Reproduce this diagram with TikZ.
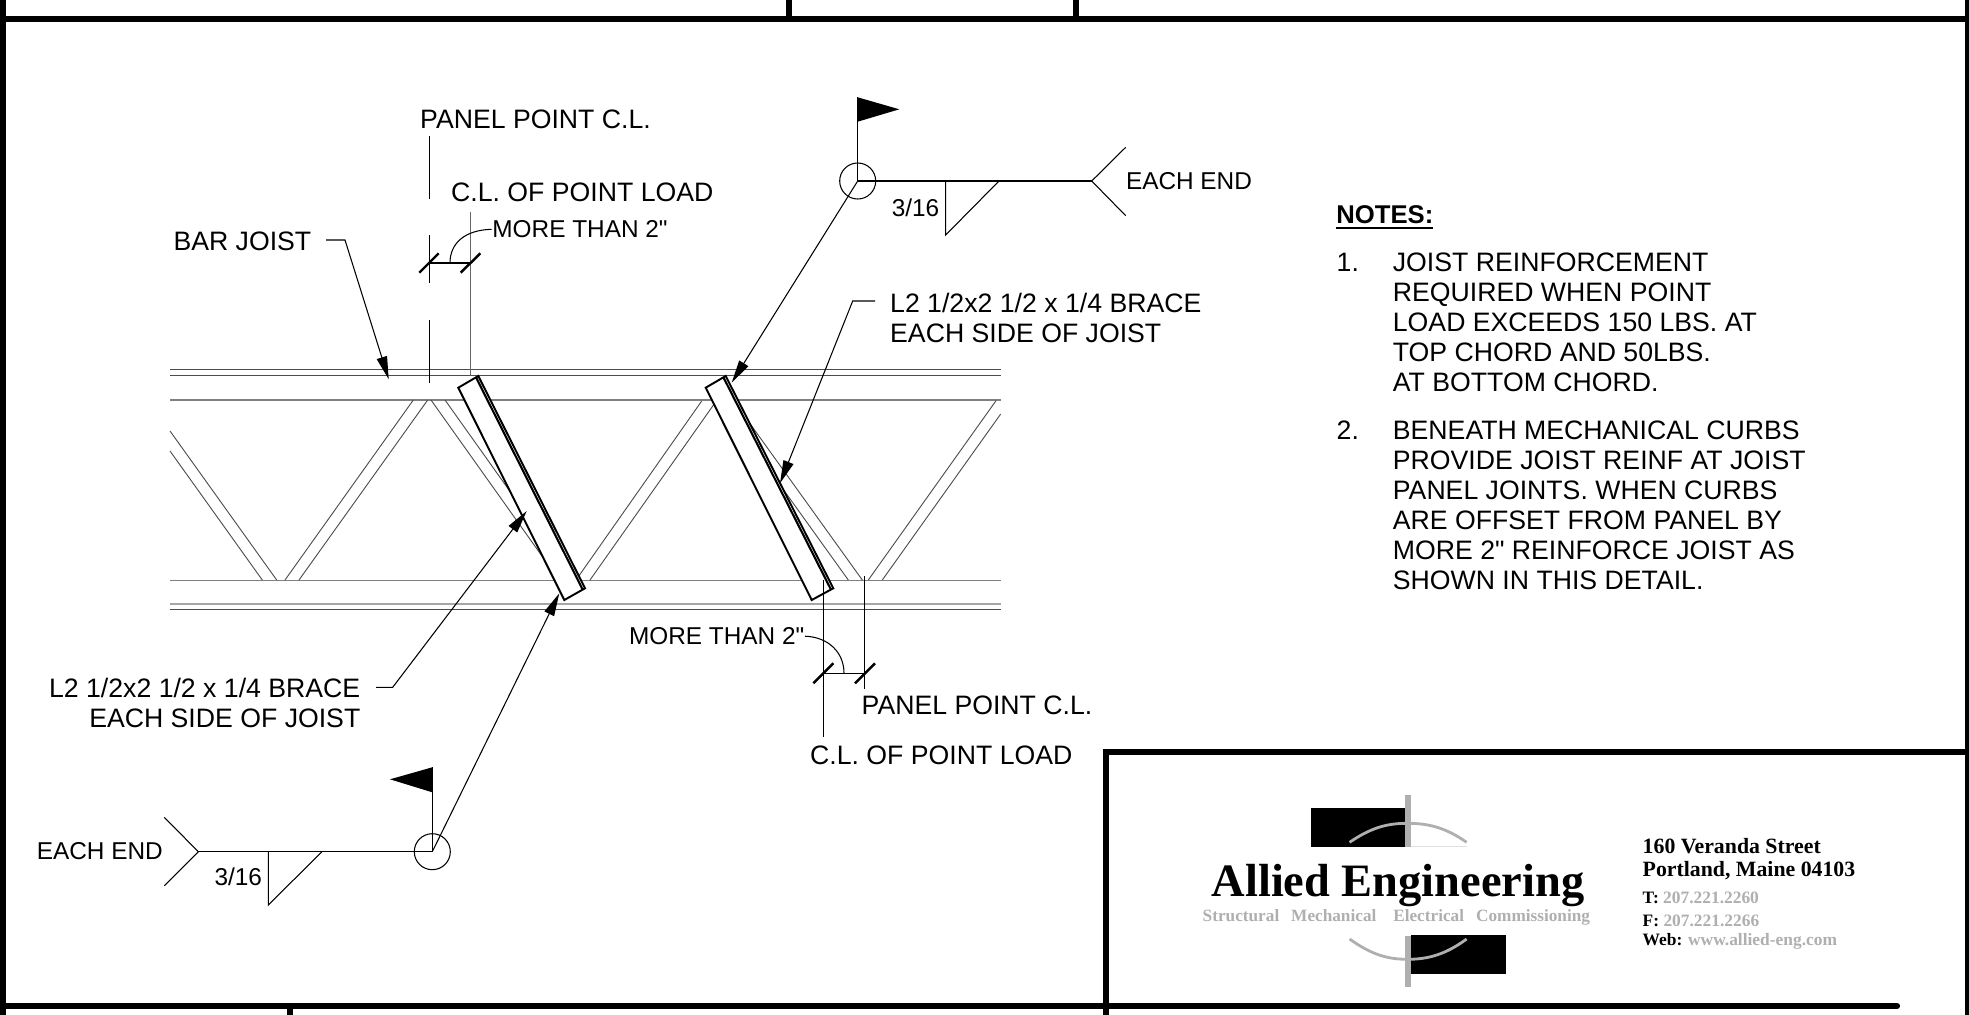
\documentclass[tikz,border=0pt]{standalone}
\usepackage{fontspec}
\newfontfamily\drawfont{Liberation Sans}
\newfontfamily\logofont{Liberation Serif}
\usetikzlibrary{positioning, arrows.meta, calc}
\definecolor{logogray}{HTML}{AFAFAF}
\tikzset{
	lbl/.style={inner sep=0pt,font=\drawfont\fontsize{7.58}{8.54}\selectfont,align=left},
	smalllbl/.style={inner sep=0pt,font=\drawfont\fontsize{6.93}{8.4}\selectfont},
	numlbl/.style={lbl,anchor=west},
	frameline/.style={line width=1.75pt},
	thinline/.style={line width=0.3pt},
	chord/.style={line width=0.4pt,black!70},
	chordlight/.style={line width=0.4pt,black!50},
	web/.style={line width=0.26pt,black!70},
	braceangle/.style={draw,fill=white,line width=0.55pt},
	braceinner/.style={line width=0.6pt},
	tick/.style={line width=0.7pt},
	leader/.style={thinline,-{Triangle[length=6.5pt,width=3pt]}},
	logotxt/.style={inner sep=0pt,anchor=west,font=\logofont\bfseries},
}
\begin{document}
\begin{tikzpicture}[x=0.01cm,y=-0.01cm]
	\useasboundingbox (0,0) rectangle (1969,1015);
	% Sheet frame
	\draw[frameline] (0,19) -- (1969,19);
	\draw[frameline] (788.7,0) -- (788.7,19);
	\draw[frameline] (1076,0) -- (1076,19);
	\draw[frameline] (2.5,0) -- (2.5,1015);
	\draw[frameline] (1968,0) -- (1968,1015);
	\draw[frameline] (1105.7,1015) -- (1105.7,752.3) -- (1969,752.3);
	\draw[frameline,line cap=round] (0,1006) -- (1897,1006);
	\draw[frameline] (290,1006) -- (290,1015);
	% Chords
	\foreach \yc in {369.3,375.3,609.3}
		\draw[chord] (170,\yc) -- (1000.7,\yc);
	\foreach \yc in {400,580.3}
		\draw[chordlight] (170,\yc) -- (1000.7,\yc);
	\draw[black!35,line width=0.5pt] (170,603.7) -- (1000.7,603.7);
	% Webs
	\draw[web] (170,431) -- (276.7,580) (170,451) -- (262.3,580);
	\draw[web] (285,580) -- (413.3,400) (299,580) -- (427.7,400);
	\draw[web] (431,400) -- (559,580) (445,400) -- (573,580);
	\draw[web] (576,580) -- (701.7,401) (590,580) -- (717,400);
	\draw[web] (719,400) -- (848.3,580) (733,400) -- (862.3,580);
	\draw[web] (868.3,580) -- (996,400.7) (882.3,580) -- (1000.7,414);
	% Braces
	\draw[braceangle] (458.3,387.7) -- (478.3,376) -- (585,588.3) -- (564.3,600) -- cycle;
	\draw[braceinner] (476,377.3) -- (582.7,589.6);
	\draw[braceangle] (705.7,387.7) -- (725.7,376) -- (833.3,588.3) -- (811.7,600) -- cycle;
	\draw[braceinner] (723.4,377.3) -- (831,589.6);
	% Center lines top
	\draw[thinline] (429.3,136) -- (429.3,199.3);
	\draw[thinline] (429.3,235) -- (429.3,283.3);
	\draw[thinline] (429.3,320) -- (429.3,382.7);
	\draw[black!60,line width=0.4pt] (470.7,211.7) -- (470.7,376);
	\draw[thinline] (429.3,263) -- (470.7,263);
	\draw[tick] (419.3,272.7) -- (438.7,253.3);
	\draw[tick] (460.7,272.7) -- (480.3,253.3);
	% Center lines bottom
	\draw[thinline] (823.3,580) -- (823.3,737.3);
	\draw[thinline] (864.3,576) -- (864.3,689.3);
	\draw[thinline] (823.3,673.3) -- (864.3,673.3);
	\draw[tick] (813.3,683.3) -- (833.3,663.3);
	\draw[tick] (855,683.3) -- (875,663.3);
	% Labels
	\node[lbl,anchor=west] (panelA) at (419.5,119.3) {PANEL POINT C.L.};
	\node[lbl,anchor=west] (loadA) at (450.5,192.3) {C.L. OF POINT LOAD};
	\node[smalllbl,anchor=west] (moreA) at (491.7,229.3) {MORE THAN 2"};
	\node[lbl,anchor=west] (barjoist) at (172.8,241.7) {BAR JOIST};
	\node[lbl,anchor=west] (braceR) at (889.5,318) {L2 1/2x2 1/2 x 1/4 BRACE\\EACH SIDE OF JOIST};
	\node[lbl,anchor=east,align=right] (braceL) at (361,702.5) {L2 1/2x2 1/2 x 1/4 BRACE\\EACH SIDE OF JOIST};
	\node[smalllbl,anchor=east] (moreB) at (805,636.2) {MORE THAN 2"};
	\node[lbl,anchor=west] (panelB) at (861,705) {PANEL POINT C.L.};
	\node[lbl,anchor=west] (loadB) at (809.5,755.7) {C.L. OF POINT LOAD};
	% Leaders
	\coordinate (moreAdim) at (450,263);
	\coordinate (moreBdim) at (844,673.3);
	\draw[thinline] (moreA.west) .. controls (465,230) and (450,243) .. (moreAdim);
	\draw[thinline] (moreB.east) .. controls (828,637) and (844,652) .. (moreBdim);
	\coordinate (jointip) at (388.7,379.3);
	\coordinate (bracetipR) at (780,483.3);
	\coordinate (bracetipL) at (526.7,511);
	\draw[leader] (326,240) -- (345,240) -- (jointip);
	\draw[leader] (875,301) -- (852.7,301) -- (bracetipR);
	\draw[leader] (376,687.3) -- (392.7,687.3) -- (bracetipL);
	% Weld symbol top
	\node[draw,thinline,circle,minimum size=0.36cm,inner sep=0pt] (weldA) at (857.7,181) {};
	\node[smalllbl,anchor=west] (endA) at (1125.3,181) {EACH END};
	\node[smalllbl,anchor=east] (sizeA) at (940,207.3) {3/16};
	\coordinate (tailA) at (1091.7,181);
	\coordinate (tipA) at (731.7,382.7);
	\draw[thinline] (weldA.center) -- (tailA);
	\draw[thinline] (1125.7,147.3) -- (tailA) -- (1125.7,215.7);
	\draw[thinline] (945.7,181) -- (945.7,235) -- (999,181);
	\fill (857.7,97.3) -- (899.3,109.3) -- (857.7,121.7) -- cycle;
	\draw[thinline] (weldA.center) -- (857.7,97.3);
	\draw[leader] (weldA.center) -- (tipA);
	% Weld symbol bottom
	\node[draw,thinline,circle,minimum size=0.36cm,inner sep=0pt] (weldB) at (432.3,851.7) {};
	\node[smalllbl,anchor=east] (endB) at (163.5,851) {EACH END};
	\node[smalllbl,anchor=east] (sizeB) at (262.7,876.5) {3/16};
	\coordinate (tailB) at (198.3,851.7);
	\coordinate (tipB) at (559.3,593.3);
	\draw[thinline] (weldB.center) -- (tailB);
	\draw[thinline] (164.3,817.3) -- (tailB) -- (164.3,885.7);
	\draw[thinline] (268.3,851.7) -- (268.3,905) -- (322,851.7);
	\fill (432.3,767.3) -- (390,779.3) -- (432.3,792.3) -- cycle;
	\draw[thinline] (weldB.center) -- (432.3,767.3);
	\draw[leader] (weldB.center) -- (tipB);
	% Notes
	\node[inner sep=0pt,anchor=west,font=\drawfont\bfseries\fontsize{7.3}{8.54}\selectfont] (notes) at (1335.7,214.5) {NOTES:};
	\draw[line width=0.6pt] (1335.5,228.3) -- (1433,228.3);
	\node[numlbl] (numA) at (1336,262.3) {1.};
	\node[numlbl] (noteA) at (1392.2,322.3) {JOIST REINFORCEMENT\\REQUIRED WHEN POINT\\LOAD EXCEEDS 150 LBS. AT\\TOP CHORD AND 50LBS.\\AT BOTTOM CHORD.};
	\node[numlbl] (numB) at (1336,430) {2.};
	\node[numlbl] (noteB) at (1392.2,505) {BENEATH MECHANICAL CURBS\\PROVIDE JOIST REINF AT JOIST\\PANEL JOINTS. WHEN CURBS\\ARE OFFSET FROM PANEL BY\\MORE 2" REINFORCE JOIST AS\\SHOWN IN THIS DETAIL.};
	% Logo
	\fill (1310.8,808) rectangle (1405.4,846.7);
	\fill[logogray] (1405.4,795.3) rectangle (1411.3,846.7);
	\draw[black!12,line width=0.3pt] (1411.3,846.7) -- (1466.6,846.7);
	\draw[logogray,line width=0.8pt] (1349.6,842.3) .. controls (1372,827) and (1388,823.3) .. (1407.7,823.3) .. controls (1427,823.3) and (1445,827) .. (1466.6,842.3);
	\fill (1411.3,935.3) rectangle (1505.9,974.3);
	\fill[logogray] (1405.4,936) rectangle (1411.3,986.7);
	\draw[logogray,line width=0.8pt] (1349.6,939) .. controls (1372,955) and (1388,959.3) .. (1407.7,959.3) .. controls (1427,959.3) and (1445,955) .. (1466.6,939);
	\node[logotxt,font=\logofont\bfseries\fontsize{13.2}{14}\selectfont] (allied) at (1211,885.5) {Allied Engineering};
	\node[logotxt,font=\logofont\bfseries\fontsize{4.9}{6}\selectfont,text=logogray] (trades) at (1202,917.3) {Structural\hspace{3.4pt}Mechanical\hspace{4.8pt}Electrical\hspace{3.4pt}Commissioning};
	% Address
	\node[logotxt,font=\logofont\bfseries\fontsize{6.2}{7}\selectfont] (street) at (1642,846) {160 Veranda Street};
	\node[logotxt,font=\logofont\bfseries\fontsize{6.2}{7}\selectfont] (city) at (1642,870.7) {Portland, Maine 04103};
	\node[logotxt,font=\logofont\bfseries\fontsize{4.95}{6}\selectfont] (phone) at (1642,898.3) {T: \textcolor{logogray}{207.221.2260}};
	\node[logotxt,font=\logofont\bfseries\fontsize{4.95}{6}\selectfont] (fax) at (1642,920.7) {F: \textcolor{logogray}{207.221.2266}};
	\node[logotxt,font=\logofont\bfseries\fontsize{4.95}{6}\selectfont] (web) at (1642,941) {Web: \textcolor{logogray}{www.allied-eng.com}};
\end{tikzpicture}
\end{document}
